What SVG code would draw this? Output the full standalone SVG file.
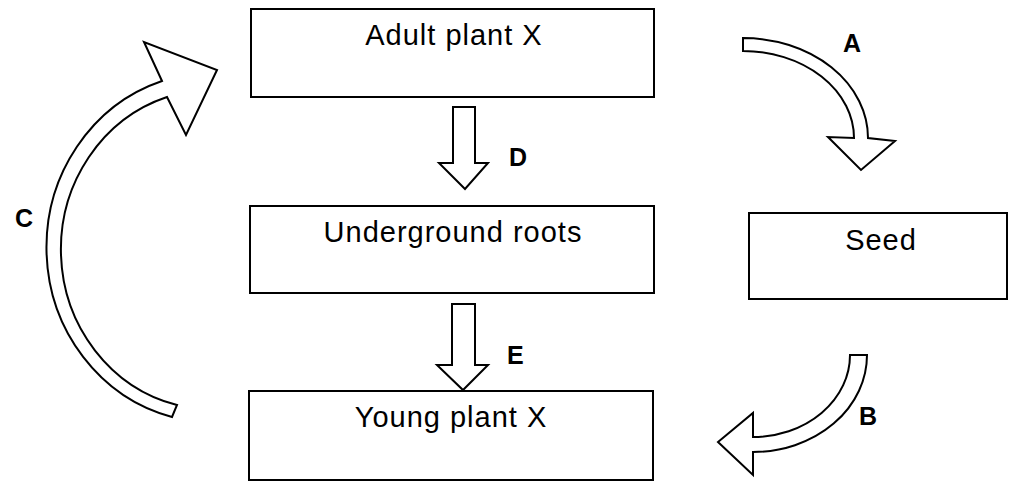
<svg xmlns="http://www.w3.org/2000/svg" width="1012" height="484" viewBox="0 0 1012 484">
<style>
.box{fill:#fff;stroke:#000;stroke-width:2}
.arr{fill:#fff;stroke:#000;stroke-width:2;stroke-linejoin:miter}
.t{font-family:"Liberation Sans",Arial,sans-serif;font-size:29px;letter-spacing:1px;text-anchor:middle;fill:#000}
.l{font-family:"Liberation Sans",Arial,sans-serif;font-size:25px;font-weight:bold;fill:#000}
</style>
<rect width="1012" height="484" fill="#fff"/>
<g id="adult">
<rect class="box" x="251" y="9" width="403" height="88"/>
<text class="t" x="454" y="45">Adult plant X</text>
</g>
<g id="roots">
<rect class="box" x="250" y="206" width="404" height="87"/>
<text class="t" x="453" y="242">Underground roots</text>
</g>
<g id="young">
<rect class="box" x="249" y="391" width="404" height="89"/>
<text class="t" x="451" y="427">Young plant X</text>
</g>
<g id="seed">
<rect class="box" x="749" y="213" width="258" height="86"/>
<text class="t" x="881" y="250">Seed</text>
</g>
<g id="connectors">
<path class="arr" d="M453,107 L475,107 L475,163 L488,163 L465,189 L439,163 L453,163 Z"/>
<text class="l" x="509" y="166">D</text>
<path class="arr" d="M452,304 L475,304 L475,365 L488,365 L463,390 L437,365 L452,365 Z"/>
<text class="l" x="507" y="364">E</text>
<path class="arr" d="M743,38 A125 100 0 0 1 868,138 L895,141 L861,170 L828,137 L854,138 A111 87 0 0 0 743,51 Z"/>
<text class="l" x="843" y="52">A</text>
<path class="arr" d="M867,355 A114 97 0 0 1 753,452 L753,475 L718,442 L753,413 L753,437 A97 82 0 0 0 850,355 Z"/>
<text class="l" x="859" y="425">B</text>
<path class="arr" d="M172,417 A167 175 0 0 1 162,81 L144,42 L217,70 L186,135 L167,97 A152 160 0 0 0 177,405 Z"/>
<text class="l" x="15" y="227">C</text>
</g>
</svg>
